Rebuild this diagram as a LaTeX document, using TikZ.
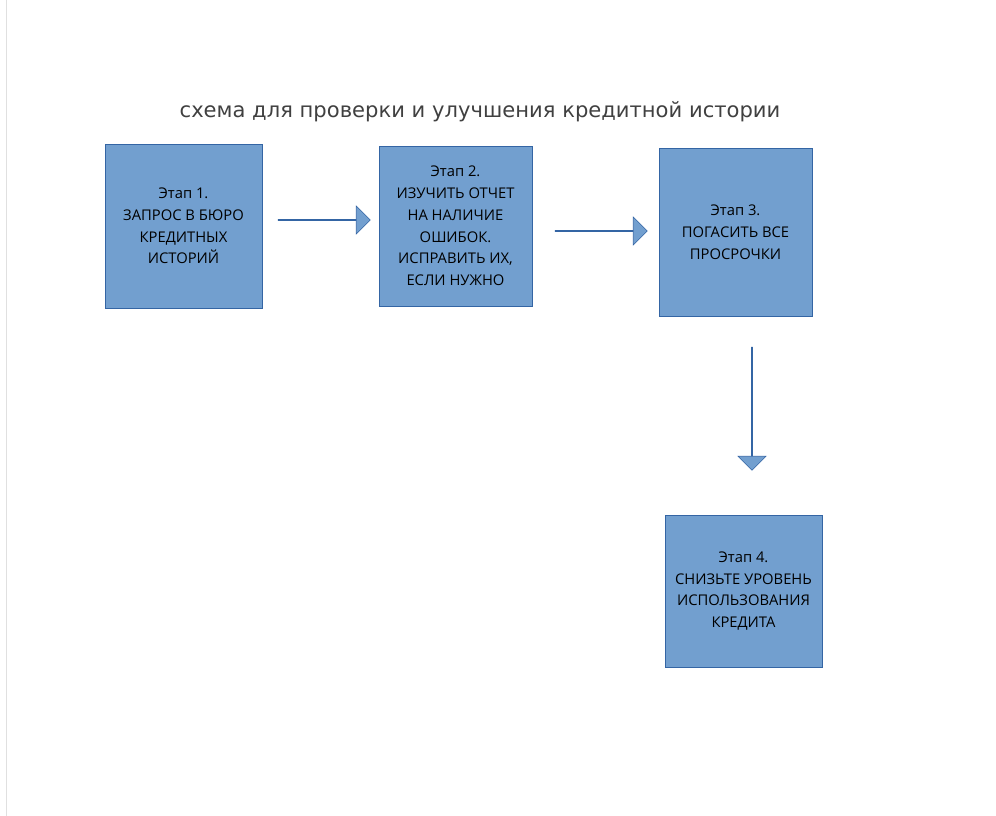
\documentclass[tikz,border=0pt]{standalone}
\usepackage{fontspec}
\setmainfont{DejaVu Sans}
\newfontfamily\boxfont{Open Sans}
\usetikzlibrary{shapes.arrows}
\definecolor{stepfill}{HTML}{729FCF}
\definecolor{stepline}{HTML}{3465A4}
\begin{document}
\begin{tikzpicture}[x=0.025cm,y=-0.025cm]
        \tikzset{stage/.style={draw=stepline,fill=stepfill,inner sep=0pt,align=center,
                font=\boxfont\fontsize{10.5}{15.5}\selectfont},
            blockarrow/.style={single arrow,draw=stepline,fill=stepfill,inner sep=0pt,
                minimum height=2.3cm,minimum width=0.7cm,single arrow head extend=0.18cm}}
            \useasboundingbox (0,0) rectangle (996,816);
            \draw[black!12] (6,0) -- (6,816);
            \node (title) at (480,112) {\fontsize{15}{18}\selectfont\color{black!75}схема для проверки и улучшения кредитной истории};

            \node[stage,minimum width=3.925cm,minimum height=4.1cm] (s1) at (183.5,226)
                {Этап 1.\\ЗАПРОС В БЮРО\\КРЕДИТНЫХ\\ИСТОРИЙ};
            \node[stage,minimum width=3.825cm,minimum height=4cm] (s2) at (455.5,226)
                {Этап 2.\\ИЗУЧИТЬ ОТЧЕТ\\НА НАЛИЧИЕ\\ОШИБОК.\\ИСПРАВИТЬ ИХ,\\ЕСЛИ НУЖНО};
            \node[stage,minimum width=3.825cm,minimum height=4.2cm] (s3) at (735.5,232)
                {Этап 3.\\ПОГАСИТЬ ВСЕ\\ПРОСРОЧКИ};
            \node[stage,minimum width=3.925cm,minimum height=3.8cm] (s4) at (743.5,591)
                {Этап 4.\\СНИЗЬТЕ УРОВЕНЬ\\ИСПОЛЬЗОВАНИЯ\\КРЕДИТА};

            \node[blockarrow] (a12) at (324,220) {};
            \node[blockarrow] (a23) at (601,231) {};
            \node[blockarrow,rotate=-90,minimum height=3.075cm] (a34) at (752,408.5) {};
        \end{tikzpicture}
\end{document}
